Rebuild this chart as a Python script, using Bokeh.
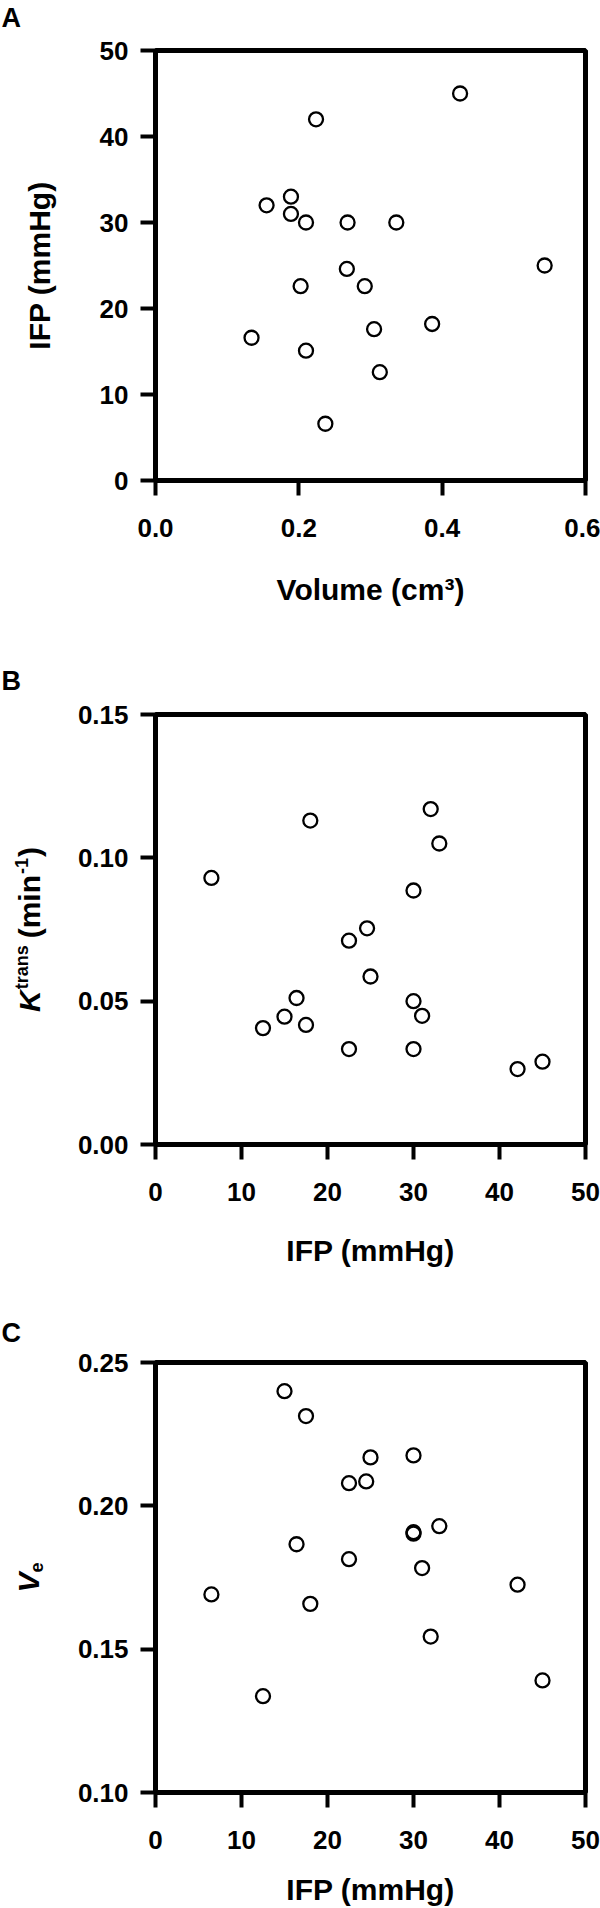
import math
from bokeh.plotting import figure
from bokeh.models import Range1d, Label, FixedTicker
from bokeh.layouts import column, row
from bokeh.embed import file_html
from bokeh.resources import INLINE

# ---------------- data ----------------
# Panel A: IFP vs tumour volume
volume_cm3 = [0.425, 0.224, 0.189, 0.155, 0.189, 0.210, 0.268, 0.336, 0.543,
              0.267, 0.2025, 0.292, 0.386, 0.305, 0.134, 0.210, 0.313, 0.237]
ifp_a = [45.0, 42.0, 33.0, 32.0, 31.0, 30.0, 30.0, 30.0, 25.0,
         24.6, 22.6, 22.6, 18.2, 17.6, 16.6, 15.1, 12.6, 6.6]

# Panel B: Ktrans vs IFP
ifp_b = [32.0, 18.0, 33.0, 6.5, 30.0, 24.6, 22.5, 25.0, 16.4,
         30.0, 15.0, 31.0, 17.5, 12.5, 22.5, 30.0, 45.0, 42.1]
ktrans = [0.117, 0.113, 0.105, 0.093, 0.0886, 0.0754, 0.0711, 0.0586, 0.0511,
          0.0500, 0.0446, 0.0449, 0.0417, 0.0406, 0.0333, 0.0333, 0.0289, 0.0263]

# Panel C: ve vs IFP
ifp_c = [15.0, 17.5, 30.0, 25.0, 22.5, 24.5, 33.0, 30.0, 30.0,
         16.4, 22.5, 31.0, 42.1, 6.5, 18.0, 32.0, 45.0, 12.5]
ve = [0.240, 0.2313, 0.2176, 0.2169, 0.2079, 0.2085, 0.1929, 0.1903, 0.1908,
      0.1866, 0.1814, 0.1783, 0.1725, 0.1691, 0.1658, 0.1544, 0.1391, 0.1336]

# ticks
a_xticks = [0.0, 0.2, 0.4, 0.6]
a_xlabels = ["0.0", "0.2", "0.4", "0.6"]
a_yticks = [0, 10, 20, 30, 40, 50]
ifp_ticks = [0, 10, 20, 30, 40, 50]
b_yticks = [0.0, 0.05, 0.10, 0.15]
b_ylabels = ["0.00", "0.05", "0.10", "0.15"]
c_yticks = [0.10, 0.15, 0.20, 0.25]
c_ylabels = ["0.10", "0.15", "0.20", "0.25"]

FONT = "Liberation Sans"
FRAME = 430
SIDE_W = 73
MAIN_W = 527
BOTTOM = 80
TITLE_PX = 30
SUP_PX = 18
# Arial-bold advance widths (per 1000 em) for placing rotated title pieces
ADV = {' ': 278, '(': 333, ')': 333, '-': 333, '1': 556, 'F': 611, 'H': 722,
       'I': 278, 'K': 722, 'P': 667, 'V': 667, 'a': 556, 'e': 556, 'g': 611,
       'i': 278, 'm': 889, 'n': 611, 'r': 389, 's': 556, 't': 333}


def tw(text, size):
    return sum(ADV.get(c, 556) for c in text) * size / 1000.0


def blank(width, height):
    s = figure(width=width, height=height, x_range=Range1d(0, width),
               y_range=Range1d(0, height), output_backend="svg",
               toolbar_location=None, x_axis_location=None, y_axis_location=None,
               min_border=0, min_border_left=0, min_border_right=0,
               min_border_top=0, min_border_bottom=0)
    s.frame_align = False
    s.outline_line_color = None
    s.background_fill_color = "white"
    s.border_fill_color = "white"
    s.grid.visible = False
    return s


def make_main(top, xr, yr, xticks, yticks, xlabels=None, ylabels=None):
    p = figure(width=MAIN_W, height=top + FRAME + BOTTOM,
               x_range=Range1d(*xr), y_range=Range1d(*yr),
               output_backend="svg", toolbar_location=None,
               min_border_left=155 - SIDE_W, min_border_right=15,
               min_border_top=top, min_border_bottom=BOTTOM)
    p.frame_align = False
    p.background_fill_color = "white"
    p.border_fill_color = "white"
    p.grid.visible = False
    p.outline_line_color = "black"
    p.outline_line_width = 5
    p.outline_line_alpha = 1.0
    for ax in (p.xaxis[0], p.yaxis[0]):
        ax.axis_line_width = 5
        ax.axis_line_color = "black"
        ax.major_tick_line_width = 4
        ax.major_tick_line_color = "black"
        ax.major_tick_out = 15
        ax.major_tick_in = 0
        ax.minor_tick_line_color = None
        ax.major_label_text_font = FONT
        ax.major_label_text_font_size = "26px"
        ax.major_label_text_font_style = "bold"
        ax.major_label_text_color = "black"
    p.xaxis[0].ticker = FixedTicker(ticks=xticks)
    p.yaxis[0].ticker = FixedTicker(ticks=yticks)
    if xlabels:
        p.xaxis[0].major_label_overrides = {t: l for t, l in zip(xticks, xlabels)}
    if ylabels:
        p.yaxis[0].major_label_overrides = {t: l for t, l in zip(yticks, ylabels)}
    p.xaxis[0].major_label_standoff = 23
    p.yaxis[0].major_label_standoff = 12
    return p


def lab(p, text, x, y, size, style="bold", align="left", angle=0.0):
    p.add_layout(Label(x=x, y=y, x_units="screen", y_units="screen", text=text,
                       angle=angle, text_font=FONT, text_font_size=f"{size}px",
                       text_font_style=style, text_align=align,
                       text_baseline="middle", text_color="black"))


def vtitle(p, pieces, cx, cy):
    # pieces: (text, size, style, shift_px, leading_gap); text reads bottom-to-top;
    # cx is the centre line of the main glyphs, shift>0 moves a piece up (left)
    total = sum(tw(t, s) + g for t, s, _, _, g in pieces)
    y = cy - total / 2
    for t, s, st, r, g in pieces:
        y += g
        lab(p, t, cx - r, y, s, style=st, angle=math.pi / 2)
        y += tw(t, s)


def points(p, xs, ys):
    p.scatter(xs, ys, marker="circle", size=14, fill_color=None,
              line_color="black", line_width=2.3)


def panel(letter, page_top, top, fig_h, main, ytitle_pieces, ytitle_cx, xtitle,
          xtitle_cy, letter_cy):
    main_h = top + FRAME + BOTTOM
    th = fig_h - main_h
    tfig = blank(MAIN_W, th)
    lab(tfig, xtitle, 155 - SIDE_W + FRAME / 2, page_top + fig_h - xtitle_cy, TITLE_PX,
        align="center")
    side = blank(SIDE_W, fig_h)
    lab(side, letter, 1, page_top + fig_h - letter_cy, 27)
    vtitle(side, ytitle_pieces, ytitle_cx, fig_h - top - FRAME / 2)
    return row(side, column(main, tfig, spacing=0), spacing=0)


# ---------------- Panel A ----------------
pA = make_main(50, (0, 0.6), (0, 50), a_xticks, a_yticks, xlabels=a_xlabels)
points(pA, volume_cm3, ifp_a)
rowA = panel("A", 0, 50, 658, pA, [("IFP (mmHg)", TITLE_PX, "bold", 0, 0)], 39,
             "Volume (cm³)", 589, 17)

# ---------------- Panel B ----------------
pB = make_main(56, (0, 50), (0, 0.15), ifp_ticks, b_yticks, ylabels=b_ylabels)
points(pB, ifp_b, ktrans)
rowB = panel("B", 658, 56, 650, pB,
             [("K", TITLE_PX, "bold italic", 0, 0), ("trans", SUP_PX, "bold", 8, 1),
              ("(min", TITLE_PX, "bold", 0, 7), ("-1", SUP_PX, "bold", 8, 1),
              (")", TITLE_PX, "bold", 0, 1)], 29,
             "IFP (mmHg)", 1250, 680)

# ---------------- Panel C ----------------
pC = make_main(54, (0, 50), (0.10, 0.25), ifp_ticks, c_yticks, ylabels=c_ylabels)
points(pC, ifp_c, ve)
rowC = panel("C", 1308, 54, 600, pC,
             [("V", TITLE_PX, "bold italic", 0, 0), ("e", SUP_PX, "bold", -8, 0)], 28,
             "IFP (mmHg)", 1889, 1332)

layout = column(rowA, rowB, rowC, spacing=0)
open("out.html", "w").write(file_html(layout, INLINE))
